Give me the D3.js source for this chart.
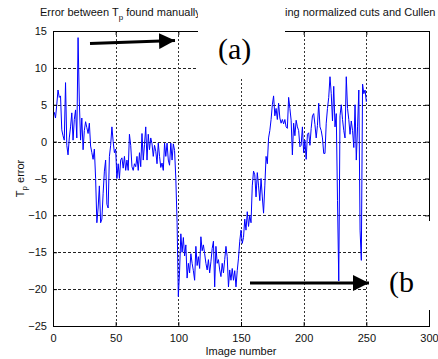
<!DOCTYPE html>
<html>
<head>
<meta charset="utf-8">
<script src="https://cdn.jsdelivr.net/npm/d3@7/dist/d3.min.js"></script>
<style>
  body { margin: 0; background: #fff; }
  text { font-family: "Liberation Sans", Arial, sans-serif; fill: #111; }
</style>
</head>
<body>
<script>
// Tp error per image
var tpError = [
  4, 3.2, 5, 7, 6, 6.2, 1.6, 0.8, 0.2, 8,
  -0.5, -1.8, 0.5, 2, 3.9, 0.2, 3, 4.3, 0.5, 14.1,
  5.5, 0.2, 3.2, -1.1, 1.5, 2.7, 1.9, 1.1, 2.5, -0.6,
  -1.5, -2.4, -1, -5, -11, -9, -6, -11, -10.5, -7,
  -4, -2.5, -8.5, -9, -2, -0.5, 2, 0, -1.5, -1,
  -5, -3, -5, -2.5, -2.2, -3.6, -2, -3.9, -2.5, -3.9,
  1, -0.5, -3.4, -3.9, -3, -3.4, -2, -3.9, -1.5, -3.4,
  1.1, -2.5, -0.4, 2, -2.5, 1, -1.1, 0.5, -0.3, -2,
  -0.5, -1.3, -3, -0.2, -2, -3.5, -2.9, -3.9, -0.2, -2,
  -0.2, -2.5, -3.2, -0.2, -2.5, -0.3, -1.2, -5, -11, -21,
  -17.5, -12.5, -15, -13, -15.5, -14, -18.5, -16.5, -17.8, -15.2,
  -16.5, -17.5, -18.8, -14.2, -16.8, -15.6, -17.2, -12.9, -14.8, -14,
  -15.2, -16.5, -17.4, -16, -17.8, -16.3, -14.5, -13.5, -19.7, -14.2,
  -16.5, -16, -17.4, -18.3, -16.5, -17.8, -16, -14.2, -15.6, -19.7,
  -17.4, -18.8, -17.2, -18.8, -17.5, -19.7, -17.5, -15.8, -13.5, -12,
  -13.8, -13, -10.5, -12, -9.5, -11.5, -10, -11, -6, -4,
  -4.5, -7.5, -4.2, -6, -8, -5, -7.5, -9.7, -6, -2,
  -3, 0.5, 1.5, 3, 5, 6.2, 3.5, 4.5, 3, 5.2,
  3.2, 2.5, 3, 2.4, 3, 2, 1.8, 6, 4.5, 2.9,
  -1.8, 2.5, 0.8, 2.9, 2, 1.5, -0.7, -0.5, 2, -1.5,
  0.2, -2.4, 1, 1.2, -0.5, 1.8, 3.5, 3.8, 2.3, 0.5,
  2.2, 5.2, 2, 1.5, 0.5, -1.6, -1.6, 2.5, 4.5, 6,
  8.8, 6.5, 2.8, 7.5, 2, 3.8, -8, -18.9, 3.5, 5,
  3, 1.5, 0.5, 8.8, 4.5, 3, 1, 2.8, 1.5, -0.8,
  5, -2.5, 2, 7, -12, -16.1, 7.8, 6.5, 7, 5.4
];
var xTicks = [0, 50, 100, 150, 200, 250, 300],
    yTicks = [15, 10, 5, 0, -5, -10, -15, -20, -25];

var W = 438, H = 359;
var margin = {top: 31, right: 9, bottom: 33, left: 53},
    width = W - margin.left - margin.right,
    height = H - margin.top - margin.bottom;

var xScale = d3.scaleLinear().domain([0, 300]).range([0, width]),
    yScale = d3.scaleLinear().domain([-25, 15]).range([height, 0]);

var svg = d3.select("body").append("svg")
            .attr("width", W)
            .attr("height", H);

var g = svg.append("g")
           .attr("transform", "translate(" + margin.left + "," + margin.top + ")");

// grid
g.append("g").selectAll("line")
 .data(yTicks)
 .enter().append("line")
 .attr("x1", 0).attr("x2", width)
 .attr("y1", d => Math.round(yScale(d)) + 0.5)
 .attr("y2", d => Math.round(yScale(d)) + 0.5)
 .style("stroke", "#222")
 .style("stroke-dasharray", "3,2");

g.append("g").selectAll("line")
 .data(xTicks)
 .enter().append("line")
 .attr("y1", 0).attr("y2", height)
 .attr("x1", d => Math.round(xScale(d)) + 0.5)
 .attr("x2", d => Math.round(xScale(d)) + 0.5)
 .style("stroke", "#333")
 .style("stroke-dasharray", "2,2");

// data line
var line = d3.line()
    .x((d, i) => xScale(i + 1))
    .y(d => yScale(d));

g.append("path")
 .datum(tpError)
 .attr("d", line)
 .style("fill", "none")
 .style("stroke", "#0000ff")
 .style("stroke-width", 1);

// axes (ticks inward, box on)
function styleAxis(sel) {
  sel.select(".domain").remove();
  sel.selectAll(".tick line").style("stroke", "#000");
  sel.selectAll("text").style("font-size", "11px").style("fill", "#111");
}

g.append("g")
 .attr("transform", "translate(0," + height + ")")
 .call(d3.axisBottom(xScale).tickValues(xTicks).tickSizeInner(-4).tickSizeOuter(0).tickPadding(8))
 .call(styleAxis);

g.append("g")
 .call(d3.axisLeft(yScale).tickValues(yTicks).tickSizeInner(-4).tickSizeOuter(0).tickPadding(6))
 .call(styleAxis);

g.append("g")
 .call(d3.axisTop(xScale).tickValues(xTicks).tickSizeInner(-4).tickSizeOuter(0).tickFormat(""))
 .call(styleAxis);

g.append("g")
 .attr("transform", "translate(" + width + ",0)")
 .call(d3.axisRight(yScale).tickValues(yTicks).tickSizeInner(-4).tickSizeOuter(0).tickFormat(""))
 .call(styleAxis);

g.append("rect")
 .attr("x", 0.5).attr("y", 0.5)
 .attr("width", width).attr("height", height)
 .style("fill", "none")
 .style("stroke", "#000");

// axis labels
svg.append("text")
   .attr("x", margin.left + width / 2)
   .attr("y", 355)
   .style("text-anchor", "middle")
   .style("font-size", "11px")
   .text("Image number");

var ylab = svg.append("text")
   .attr("transform", "translate(24," + (margin.top + height / 2) + ") rotate(-90)")
   .style("text-anchor", "middle")
   .style("font-size", "11px");
ylab.append("tspan").text("T");
ylab.append("tspan").attr("dy", 3).style("font-size", "8px").text("p");
ylab.append("tspan").attr("dy", -3).text(" error");

// title (middle part hidden by the white patch, as in the figure)
var title = svg.append("text")
   .attr("x", 40)
   .attr("y", 16)
   .style("font-size", "11px");
title.append("tspan").text("Error between T");
title.append("tspan").attr("dy", 4).style("font-size", "8px").text("p");
title.append("tspan").attr("dy", -4).text(" found manually and");

svg.append("text")
   .attr("x", 285)
   .attr("y", 16)
   .style("font-size", "11px")
   .text("ing normalized cuts and Cullen");

// white patches with the (a) / (b) labels
svg.append("rect")
   .attr("x", 198).attr("y", 0)
   .attr("width", 87).attr("height", 78)
   .style("fill", "#fff");

svg.append("rect")
   .attr("x", 368).attr("y", 221)
   .attr("width", 70).attr("height", 89)
   .style("fill", "#fff");

svg.append("text")
   .attr("x", 218).attr("y", 59)
   .style("font-family", "'Liberation Serif', 'Times New Roman', serif")
   .style("font-size", "30px")
   .style("fill", "#000")
   .text("(a)");

svg.append("text")
   .attr("x", 389).attr("y", 292)
   .style("font-family", "'Liberation Serif', 'Times New Roman', serif")
   .style("font-size", "30px")
   .style("fill", "#000")
   .text("(b");

// arrows
svg.append("defs").append("marker")
   .attr("id", "head")
   .attr("viewBox", "0 0 16 16")
   .attr("refX", 16).attr("refY", 8)
   .attr("markerWidth", 16).attr("markerHeight", 16)
   .attr("markerUnits", "userSpaceOnUse")
   .attr("orient", "auto")
   .append("path")
   .attr("d", "M0,0L16,8L0,16Z")
   .style("fill", "#000");

svg.append("line")
   .attr("x1", 90).attr("y1", 43.5)
   .attr("x2", 175).attr("y2", 40.5)
   .style("stroke", "#000").style("stroke-width", 3)
   .attr("marker-end", "url(#head)");

svg.append("line")
   .attr("x1", 250).attr("y1", 283)
   .attr("x2", 369).attr("y2", 283)
   .style("stroke", "#000").style("stroke-width", 3)
   .attr("marker-end", "url(#head)");
</script>
</body>
</html>
